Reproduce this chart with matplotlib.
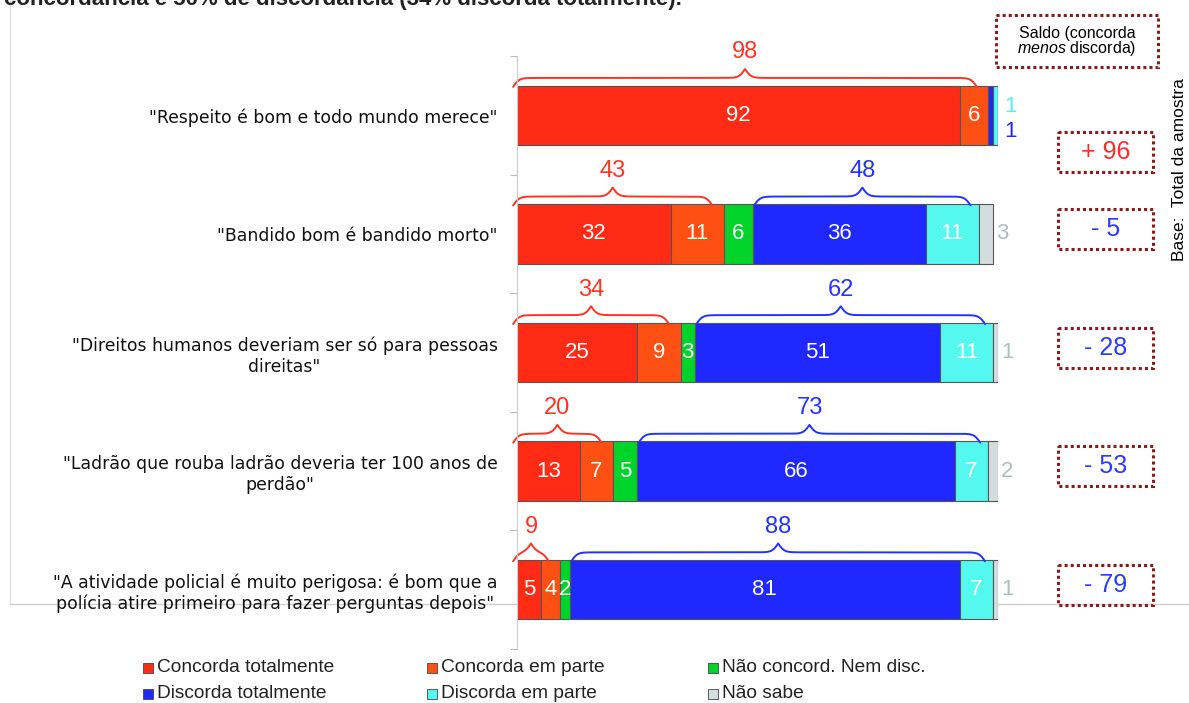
import numpy as np
import matplotlib.pyplot as plt
from matplotlib.patches import Rectangle

plt.rcParams['font.family'] = ['Liberation Sans', 'DejaVu Sans']
plt.rcParams['mathtext.fontset'] = 'custom'
plt.rcParams['mathtext.rm'] = 'Liberation Sans'
plt.rcParams['mathtext.it'] = 'Liberation Sans:italic'

frases = ['"Respeito é bom e todo mundo merece"',
          '"Bandido bom é bandido morto"',
          '"Direitos humanos deveriam ser só para pessoas\ndireitas"',
          '"Ladrão que rouba ladrão deveria ter 100 anos de\nperdão"',
          '"A atividade policial é muito perigosa: é bom que a\npolícia atire primeiro para fazer perguntas depois"']
categorias = ['Concorda totalmente', 'Concorda em parte', 'Não concord. Nem disc.',
              'Discorda totalmente', 'Discorda em parte', 'Não sabe']
concorda_tot = [92, 32, 25, 13, 5]
concorda_parte = [6, 11, 9, 7, 4]
nem_nem = [0, 6, 3, 5, 2]
discorda_tot = [1, 36, 51, 66, 81]
discorda_parte = [1, 11, 11, 7, 7]
nao_sabe = [0, 3, 1, 2, 1]
concorda_soma = [98, 43, 34, 20, 9]
discorda_soma = [2, 48, 62, 73, 88]
saldo = [96, -5, -28, -53, -79]

cores = ['#FF2B14', '#FF5014', '#00D42A', '#1E28FF', '#55F8EE', '#D5DCDD']
vermelho = '#FF3322'
azul = '#2232FF'
cinza_txt = '#AEBEBF'
borda = '#8B1A1A'

W, H = 1189, 703
fig = plt.figure(figsize=(W / 100, H / 100), dpi=100)


def fx(px):
    return px / W


def fy(py):
    return 1 - py / H


ax = fig.add_axes([fx(517), fy(649), (998 - 517) / W, (649 - 56) / H])
ax.patch.set_visible(False)
ax.set_xlim(0, 100)
ax.set_ylim(4.5, -0.5)

series = [concorda_tot, concorda_parte, nem_nem, discorda_tot, discorda_parte, nao_sabe]
y = np.arange(len(frases))
left = np.zeros(len(frases))
for k, vals in enumerate(series):
    vals = np.array(vals, dtype=float)
    ax.barh(y, vals, left=left, height=0.5, color=cores[k],
            edgecolor='#555555', linewidth=0.8)
    for i, v in enumerate(vals):
        if v == 0:
            continue
        if k == 5:
            ax.text(left[i] + v + 0.6, i, '%d' % v, color=cinza_txt, fontsize=16,
                    ha='left', va='center', clip_on=False)
        elif v >= 2:
            ax.text(left[i] + v / 2, i, '%d' % v, color='white', fontsize=16,
                    ha='center', va='center')
        else:
            # valores pequenos fora da barra
            dy = -0.07 if k == 4 else 0.14
            ax.text(101.2, i + dy, '%d' % v, color=cores[k] if k == 3 else '#55F0EE',
                    fontsize=16, ha='left', va='center', clip_on=False)
    left = left + vals


def chave(x0, x1, ybase, cor):
    # chave "{" deitada acima da barra
    n = 401
    xs = np.linspace(x0, x1, n)
    xh = xs[:n // 2 + 1]
    beta = 1.6
    yh = 1 / (1 + np.exp(-beta * (xh - xh[0]))) + 1 / (1 + np.exp(-beta * (xh - xh[-1])))
    yy = np.concatenate((yh, yh[-2::-1]))
    ax.plot(xs, ybase - (yy - 0.5) * 0.15, color=cor, lw=1.4, clip_on=False,
            solid_capstyle='round')


for i in range(len(frases)):
    topo = i - 0.25 + 0.01
    c_fim = concorda_tot[i] + concorda_parte[i]
    chave(-0.8, c_fim - 2.4, topo, vermelho)
    ax.text((-0.8 + c_fim - 2.4) / 2, topo - 0.29, str(concorda_soma[i]), color=vermelho,
            fontsize=17, ha='center', va='center', clip_on=False)
    if discorda_soma[i] > 5:
        d_ini = c_fim + nem_nem[i] + 0.3
        d_fim = d_ini + discorda_tot[i] + discorda_parte[i] - 2.0
        chave(d_ini, d_fim, topo, azul)
        ax.text((d_ini + d_fim) / 2, topo - 0.29, str(discorda_soma[i]), color=azul,
                fontsize=17, ha='center', va='center', clip_on=False)

    # caixas de saldo
    yc = i + 0.31 if i == 0 else i - 0.04
    ax.add_patch(Rectangle((112.5, yc - 0.168), 19.7, 0.336, fill=False, ec=borda,
                           lw=2.2, ls=(0, (1, 1)), clip_on=False))
    s = saldo[i]
    txt = ('+ %d' % s) if s > 0 else ('- %d' % abs(s))
    ax.text(122.35, yc, txt, color='#FF2A2A' if s > 0 else '#2A3AFF', fontsize=18,
            ha='center', va='center', clip_on=False)

# cabeçalho do saldo
ax.add_patch(Rectangle((99.6, -0.842), 33.7, 0.438, fill=False, ec=borda, lw=2.2,
                       ls=(0, (1, 1)), clip_on=False))
ax.text(116.4, -0.69, 'Saldo (concorda', fontsize=11.5, ha='center', va='center',
        clip_on=False)
ax.text(116.4, -0.56, r'$\mathit{menos}$ discorda)', fontsize=11.5, ha='center',
        va='center', clip_on=False)
ax.text(137.8, 0.46, 'Base:  Total da amostra', rotation=90, fontsize=12.5, ha='center',
        va='center', clip_on=False)

# eixos
ax.set_yticks(y)
ax.set_yticklabels(frases, fontsize=12.4, family='DejaVu Sans', color='#111111')
for t in ax.get_yticklabels():
    t.set_multialignment('center')
ax.tick_params(axis='y', which='major', length=0, pad=14)
ax.set_yticks(np.arange(-0.5, 5, 1), minor=True)
ax.tick_params(axis='y', which='minor', length=5, color='#BBBBBB', width=0.8)
ax.set_xticks([])
for lado in ['top', 'right', 'bottom']:
    ax.spines[lado].set_visible(False)
ax.spines['left'].set_color('#CCCCCC')

# linhas de moldura do slide
fig.add_artist(plt.Line2D([fx(10), fx(10)], [fy(0), fy(604)], color='#E2E2E2', lw=1,
                          zorder=-5))
fig.add_artist(plt.Line2D([fx(10), 1], [fy(604), fy(604)], color='#D0D0D0', lw=1,
                          zorder=-5))

# texto cortado do topo
fig.text(fx(4), fy(5), 'concordância e 50% de discordância (34% discorda totalmente).',
         fontsize=16, fontweight='bold', ha='left', va='baseline', color='#222222')

# legenda
pos_leg = [(143, 668), (143, 694), (427, 668), (427, 694), (708, 668), (708, 694)]
ordem = [0, 3, 1, 4, 2, 5]
for (px, py), k in zip(pos_leg, ordem):
    fig.add_artist(Rectangle((fx(px), fy(py + 5)), 10 / W, 10 / H, fc=cores[k],
                             ec='#444444', lw=0.6, transform=fig.transFigure))
    fig.text(fx(px + 14), fy(py), categorias[k], fontsize=13.8, ha='left', va='center',
             color='#222222')

fig.savefig('out.png', dpi=100)
